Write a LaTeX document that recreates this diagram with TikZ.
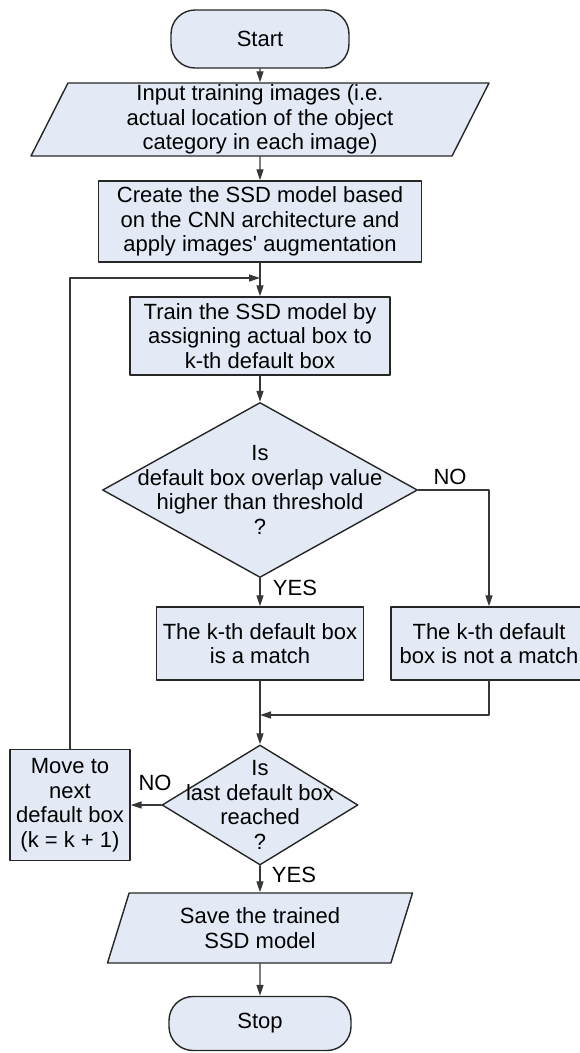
\documentclass[tikz,border=0pt]{standalone}
\usepackage{fontspec}
\setmainfont{Liberation Sans}
\usetikzlibrary{shapes.geometric}
\usetikzlibrary{arrows.meta}
\definecolor{boxfill}{RGB}{227,233,245}
\definecolor{linegray}{RGB}{55,55,55}

\begin{document}
\begin{tikzpicture}[x=1pt, y=-1pt, line cap=round, line join=round,
    >={Triangle[length=11pt, width=7pt]},
    every node/.style={font=\fontsize{22}{24.5}\selectfont},
    terminal/.style={draw=black!85, fill=boxfill, line width=1.4pt, rounded corners=24pt, minimum width=178pt, minimum height=58pt, inner sep=0pt},
    process/.style={draw=black!85, fill=boxfill, line width=1.4pt, align=center, inner sep=0pt},
    inout/.style={draw=black!85, fill=boxfill, line width=1.4pt, align=center, trapezium, trapezium left angle=62, trapezium right angle=118, trapezium stretches body, inner sep=0pt},
    decision/.style={draw=black!85, fill=boxfill, line width=1.4pt, diamond, inner sep=0pt},
    flow/.style={->, line width=1.3pt, draw=linegray},
    answer/.style={inner sep=0pt}]
  \useasboundingbox (0,0) rectangle (580,1053);
  %--- Start
    \node[terminal] (start) at (260, 39) {Start};
  %--- Input training images
    \node[inout, minimum width=458pt, minimum height=73pt] (input) at (260, 119.5) {Input training images (i.e.\\ actual location of the object\\ category in each image)};
  %--- Create the model
    \node[process, minimum width=323pt, minimum height=81pt] (create) at (260, 221.5) {Create the SSD model based\\ on the CNN architecture and\\ apply images\textquotesingle{} augmentation};
  %--- Train
    \node[process, minimum width=260pt, minimum height=78pt] (train) at (260, 336) {Train the SSD model by\\ assigning actual box to\\ k-th default box};
  %--- Overlap test
    \node[decision, minimum width=315pt, minimum height=175pt] (isover) at (260, 490) {};
    \node[align=center, inner sep=0pt] (isovertext) at (isover) {Is\\ default box overlap value\\ higher than threshold\\ ?};
  %--- Match / no match
    \node[process, minimum width=207pt, minimum height=73pt] (match) at (260, 643.5) {The k-th default box\\ is a match};
    \node[process, minimum width=196pt, minimum height=73pt] (nomatch) at (489, 643.5) {The k-th default\\ box is not a match};
  %--- Last box test
    \node[decision, minimum width=196pt, minimum height=120pt] (islast) at (260, 805) {};
    \node[align=center, inner sep=0pt] (islasttext) at (islast) {Is\\ last default box\\ reached\\ ?};
  %--- Next box
    \node[process, minimum width=120pt, minimum height=111pt] (move) at (70, 805) {Move to\\ next\\ default box\\ (k = k + 1)};
  %--- Save
    \node[inout, minimum width=305pt, minimum height=70pt] (save) at (260, 928) {Save the trained\\ SSD model};
  %--- Stop
    \node[terminal, minimum width=182pt, minimum height=54pt] (stop) at (260, 1023.5) {Stop};
  % Joins
    \coordinate (loopin) at (260, 278);
    \coordinate (mergein) at (260, 715);
  % Arrows
    \draw[flow] (start) -- (input);
    \draw[flow] (input) -- (create);
    \draw[flow] (create) -- (train);
    \draw[flow] (move.north) |- (loopin);
    \draw[flow] (train) -- (isover);
    \draw[flow] (isover) -- (match);
    \draw[flow] (isover.east) -| (nomatch.north);
    \draw[flow] (nomatch.south) |- (mergein);
    \draw[flow] (match) -- (islast);
    \draw[flow] (islast.west) -- (move.east);
    \draw[flow] (islast) -- (save);
    \draw[flow] (save) -- (stop);
  % Answers
    \node[answer] (yesover) at (295, 588) {YES};
    \node[answer] (noover) at (450, 477) {NO};
    \node[answer] (nolast) at (155, 783) {NO};
    \node[answer] (yeslast) at (294, 875) {YES};
\end{tikzpicture}
\end{document}
